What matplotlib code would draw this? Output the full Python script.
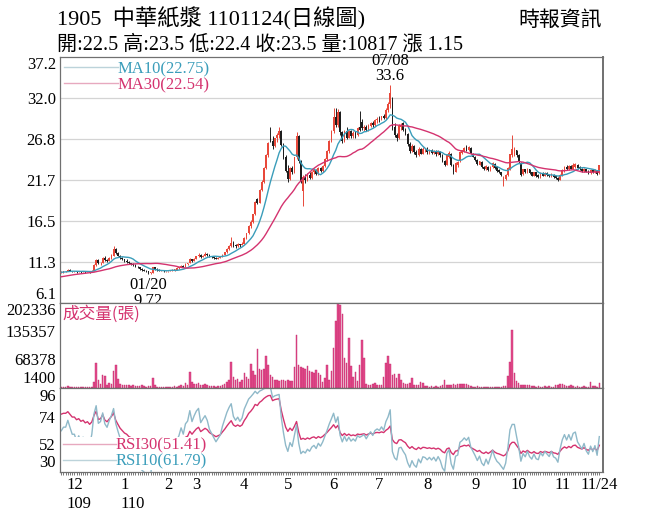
import numpy as np
import pandas as pd
import matplotlib
matplotlib.use("Agg")
import matplotlib.pyplot as plt
from matplotlib.lines import Line2D
from matplotlib.transforms import blended_transform_factory

plt.rcParams['font.family'] = ['Liberation Serif', 'Noto Sans CJK TC', 'DejaVu Sans']

# ---- data (1905 中華紙漿, daily, 2020/11/23 - 2021/11/24) ----
# trading days per month: tail of Nov, Dec, Jan ... Nov
month_days = [6, 23, 20, 13, 22, 20, 21, 21, 22, 22, 20, 20, 18]
month_labels = ["12", "1", "2", "3", "4", "5", "6", "7", "8", "9", "10", "11"]
year_labels = {"12": "109", "1": "110"}
last_label = "11/24"
hi_date, lo_date = "07/08", "01/20"

# closes before the window, only used to warm up MA / RSI
warmup_close = [8.6, 8.7, 8.6, 8.8, 8.9, 8.8, 8.9, 9.0, 8.9, 9.1, 9.0, 9.2, 9.1, 9.3, 9.2,
                9.4, 9.5, 9.4, 9.6, 9.7, 9.6, 9.8, 9.9, 9.8, 10.0, 9.9, 10.1, 10.0, 10.2, 10.1]

opens = [
    9.9, 10.0, 10.1, 10.1, 10.3, 10.2,
    10.1, 10.1, 10.0, 10.1, 10.0, 10.1, 10.0, 10.1, 10.0, 10.2, 10.9, 11.5, 11.1, 11.2, 11.8, 11.5,
    11.4, 11.8, 12.1, 12.9, 12.4, 12.1, 11.8,
    11.6, 11.4, 11.3, 11.1, 11.0, 10.9, 10.7, 10.6, 10.4, 10.3, 10.2, 10.1, 9.9, 9.9, 10.6, 10.4,
    10.3, 10.2, 10.2, 10.1,
    10.1, 10.1, 10.2, 10.3, 10.3, 10.5, 10.6, 10.8, 10.7, 11.0, 11.1, 11.6, 11.4,
    11.7, 12.0, 12.2, 11.9, 12.1, 12.3, 12.2, 12.0, 11.9, 11.8, 11.7, 11.8, 11.9, 12.2, 12.5, 12.9,
    13.3, 13.7, 13.4, 13.3, 13.5, 13.4,
    13.6, 14.3, 14.9, 15.8, 16.4, 17.3, 19.2, 18.8, 20.4, 21.4, 23.2, 24.8, 27.0, 26.6, 25.9, 26.9,
    27.4, 27.9, 26.1, 24.5,
    22.8, 21.8, 23.2, 22.6, 24.5, 27.2, 24.0, 20.2, 22.0, 21.6, 22.3, 21.9, 22.6, 22.9, 22.4, 23.2,
    22.8, 23.4, 24.3, 25.3, 26.6,
    27.9, 29.6, 28.6, 30.2, 27.7, 26.6, 27.8, 27.0, 27.8, 27.2, 27.6, 27.3, 28.4, 29.0, 28.2, 28.4,
    28.0, 28.5, 28.9, 28.6, 29.2,
    29.4, 29.3, 29.7, 29.5, 30.5, 31.2, 32.0, 28.4, 27.3, 26.9, 28.3, 28.8, 28.0, 27.5, 26.2, 25.3,
    26.0, 25.2, 24.8, 25.6, 25.0, 25.4,
    25.5, 25.2, 25.4, 25.1, 25.3, 24.9, 25.2, 24.8, 24.0, 23.6, 24.6, 25.0, 23.5, 22.7, 23.5, 24.0,
    25.1, 25.3, 25.8, 25.4, 25.7, 25.0,
    24.6, 24.2, 23.6, 23.9, 23.3, 23.0, 23.3, 22.9, 23.3, 23.7, 23.3, 22.9, 22.6, 21.5, 21.8, 22.3,
    23.0, 24.8, 24.9, 25.4,
    24.8, 23.8, 22.4, 23.0, 22.6, 23.0, 22.6, 22.2, 22.6, 22.3, 22.0, 22.5, 22.2, 22.5, 22.3, 22.1,
    22.3, 22.1, 21.9, 21.7,
    22.2, 22.8, 23.3, 23.0, 23.4, 23.1, 23.3, 23.6, 23.3, 23.1, 22.8, 23.0, 22.8, 22.5, 22.9, 22.6,
    22.8, 22.5,
]
highs = [
    10.1, 10.2, 10.2, 10.4, 10.4, 10.2,
    10.2, 10.1, 10.2, 10.1, 10.2, 10.1, 10.2, 10.1, 10.3, 11.0, 11.7, 11.6, 11.3, 11.9, 12.0, 11.7,
    11.9, 12.3, 13.3, 13.0, 12.5, 12.2, 11.9,
    11.7, 11.6, 11.4, 11.2, 11.1, 11.0, 10.8, 10.7, 10.5, 10.4, 10.3, 10.2, 10.0, 10.7, 10.7, 10.5,
    10.4, 10.3, 10.3, 10.2,
    10.2, 10.3, 10.4, 10.4, 10.6, 10.7, 10.9, 10.9, 11.1, 11.2, 11.8, 11.7, 11.8,
    12.1, 12.4, 12.3, 12.2, 12.5, 12.4, 12.3, 12.1, 12.0, 11.9, 11.9, 12.0, 12.3, 12.6, 13.0, 13.4,
    14.4, 13.9, 13.6, 13.7, 13.6, 13.8,
    14.4, 15.0, 15.9, 16.6, 17.4, 19.0, 19.4, 20.5, 21.6, 23.3, 24.9, 26.5, 28.4, 27.2, 27.0, 27.6,
    28.3, 28.0, 26.3, 24.8,
    23.5, 23.3, 23.4, 24.6, 27.7, 27.4, 24.2, 22.3, 22.4, 22.5, 22.6, 22.8, 23.1, 23.0, 23.3, 23.3,
    23.5, 24.4, 25.4, 26.7, 28.0,
    30.8, 30.8, 30.6, 30.4, 27.9, 28.0, 28.3, 28.0, 28.0, 27.8, 27.8, 28.3, 30.4, 29.3, 28.6, 28.6,
    28.7, 29.0, 29.1, 29.3, 29.6,
    29.7, 29.8, 30.0, 30.7, 31.5, 33.6, 32.2, 28.8, 27.6, 28.7, 28.9, 29.0, 28.2, 27.6, 26.5, 26.2,
    26.1, 25.4, 25.8, 25.7, 25.8, 25.7,
    25.8, 25.6, 25.6, 25.5, 25.5, 25.4, 25.3, 24.9, 24.2, 24.9, 25.3, 25.1, 23.7, 23.9, 24.0, 25.3,
    25.5, 25.8, 26.1, 25.9, 25.8, 25.1,
    24.7, 24.3, 24.1, 24.0, 23.4, 23.5, 23.4, 23.4, 23.9, 23.8, 23.4, 23.0, 22.7, 22.1, 22.4, 23.3,
    25.0, 27.3, 25.8, 25.5,
    24.9, 23.9, 23.1, 23.1, 23.2, 23.1, 22.7, 22.7, 22.7, 22.4, 22.6, 22.6, 22.6, 22.6, 22.4, 22.5,
    22.4, 22.2, 22.0, 22.4,
    23.0, 23.4, 23.5, 23.5, 23.6, 23.8, 23.8, 23.7, 23.4, 23.2, 23.2, 23.1, 22.9, 23.0, 23.0, 23.0,
    22.9, 23.5,
]
lows = [
    9.9, 9.9, 10.0, 10.1, 10.1, 10.0,
    10.0, 9.9, 10.0, 9.9, 10.0, 9.9, 10.0, 9.9, 10.0, 10.2, 10.8, 11.0, 10.9, 11.1, 11.4, 11.3,
    11.4, 11.7, 12.0, 12.3, 12.0, 11.7, 11.5,
    11.3, 11.2, 11.0, 10.9, 10.8, 10.6, 10.5, 10.3, 10.2, 10.1, 10.0, 9.72, 9.8, 9.9, 10.3, 10.2,
    10.1, 10.1, 10.0, 10.0,
    10.0, 10.1, 10.2, 10.2, 10.3, 10.4, 10.6, 10.6, 10.7, 10.9, 11.1, 11.3, 11.4,
    11.7, 11.9, 11.8, 11.9, 12.1, 12.1, 11.9, 11.8, 11.7, 11.6, 11.7, 11.8, 11.9, 12.2, 12.4, 12.8,
    13.2, 13.2, 13.1, 13.2, 13.2, 13.4,
    13.6, 14.2, 14.8, 15.6, 16.2, 17.2, 18.6, 18.8, 20.2, 21.3, 23.0, 24.6, 26.4, 25.6, 25.8, 26.5,
    27.0, 25.9, 24.3, 22.6,
    21.4, 21.6, 22.4, 22.5, 24.3, 23.8, 21.3, 18.3, 21.3, 21.5, 21.8, 21.8, 22.4, 22.3, 22.3, 22.7,
    22.7, 23.3, 24.1, 25.1, 26.4,
    27.6, 28.3, 28.4, 27.4, 26.3, 26.4, 26.8, 26.9, 27.0, 27.0, 27.0, 27.2, 27.8, 28.0, 27.9, 27.8,
    27.8, 28.3, 28.4, 28.5, 28.9,
    29.0, 29.2, 29.3, 29.4, 30.2, 30.8, 28.0, 27.1, 26.6, 26.8, 28.0, 27.8, 27.3, 26.0, 25.1, 25.2,
    25.0, 24.6, 24.7, 24.9, 24.9, 25.2,
    25.0, 25.0, 24.9, 25.0, 24.7, 24.8, 24.6, 23.9, 23.4, 23.5, 24.4, 23.4, 22.4, 22.6, 23.3, 23.9,
    24.9, 25.2, 25.3, 25.3, 24.9, 24.5,
    24.1, 23.6, 23.5, 23.2, 22.9, 22.9, 22.8, 22.8, 23.2, 23.1, 22.7, 22.5, 22.2, 20.9, 21.7, 22.2,
    22.9, 24.6, 24.7, 24.6,
    23.8, 22.1, 22.3, 22.5, 22.5, 22.4, 22.1, 22.1, 22.0, 21.9, 21.9, 22.1, 22.1, 22.2, 22.0, 22.0,
    21.9, 21.8, 21.5, 21.6,
    22.1, 22.7, 22.9, 22.9, 23.0, 23.0, 23.2, 23.1, 22.9, 22.7, 22.7, 22.6, 22.4, 22.4, 22.5, 22.5,
    22.3, 22.4,
]
closes = [
    10.0, 10.1, 10.1, 10.3, 10.2, 10.1,
    10.1, 10.0, 10.1, 10.0, 10.1, 10.0, 10.1, 10.0, 10.2, 10.9, 11.5, 11.1, 11.2, 11.8, 11.5, 11.4,
    11.8, 12.2, 12.9, 12.4, 12.1, 11.8, 11.6,
    11.4, 11.3, 11.1, 11.0, 10.9, 10.7, 10.6, 10.4, 10.3, 10.2, 10.1, 9.9, 9.9, 10.6, 10.4, 10.3,
    10.2, 10.2, 10.1, 10.1,
    10.1, 10.2, 10.3, 10.3, 10.5, 10.6, 10.8, 10.7, 11.0, 11.1, 11.6, 11.4, 11.7,
    12.0, 12.2, 11.9, 12.1, 12.3, 12.2, 12.0, 11.9, 11.8, 11.7, 11.8, 11.9, 12.2, 12.5, 12.9, 13.3,
    13.7, 13.4, 13.3, 13.5, 13.4, 13.6,
    14.3, 14.9, 15.8, 16.4, 17.3, 18.9, 18.8, 20.4, 21.4, 23.2, 24.8, 26.3, 26.6, 25.9, 26.9, 27.4,
    27.9, 26.1, 24.5, 22.8,
    21.8, 23.2, 22.6, 24.5, 27.2, 24.0, 21.5, 22.0, 21.6, 22.3, 21.9, 22.6, 22.9, 22.4, 23.2, 22.8,
    23.4, 24.3, 25.3, 26.6, 27.9,
    29.6, 28.6, 30.2, 27.7, 26.6, 27.8, 27.0, 27.8, 27.2, 27.6, 27.3, 28.2, 28.0, 28.2, 28.4, 28.0,
    28.5, 28.9, 28.6, 29.2, 29.4,
    29.3, 29.7, 29.5, 30.5, 31.2, 32.6, 28.4, 27.3, 26.9, 28.5, 28.6, 28.0, 27.5, 26.2, 25.3, 26.0,
    25.2, 24.8, 25.6, 25.0, 25.6, 25.5,
    25.2, 25.4, 25.1, 25.3, 24.9, 25.2, 24.8, 24.0, 23.6, 24.8, 25.1, 23.5, 22.7, 23.8, 23.9, 25.2,
    25.4, 25.7, 25.5, 25.8, 25.0, 24.6,
    24.2, 23.7, 24.0, 23.3, 23.0, 23.4, 22.9, 23.3, 23.8, 23.2, 22.8, 22.6, 22.3, 22.0, 22.3, 23.2,
    24.9, 25.6, 25.6, 24.8,
    23.9, 22.3, 23.0, 22.6, 23.1, 22.5, 22.2, 22.6, 22.1, 22.0, 22.5, 22.2, 22.5, 22.3, 22.1, 22.4,
    22.0, 21.9, 21.6, 22.3,
    22.9, 23.3, 23.0, 23.4, 23.1, 23.6, 23.7, 23.2, 23.0, 22.8, 23.1, 22.7, 22.5, 22.9, 22.6, 22.9,
    22.35, 23.5,
]
volumes = [
    2000, 2500, 3000, 4500, 3000, 2000,
    1800, 1500, 2000, 1600, 1900, 1500, 1700, 1600, 3000, 15000, 60000, 20000, 10000, 30000, 28000,
    8000, 12000, 9000, 40000, 55000, 22000, 9000, 8000,
    7000, 6000, 6500, 5000, 6000, 4500, 5500, 4000, 6000, 4500, 3500, 5000, 4000, 24000, 6000, 3000,
    2500, 2000, 3000, 2500,
    2500, 2000, 3000, 4000, 3500, 5000, 6000, 4000, 12000, 8000, 38000, 14000, 9000,
    10000, 12000, 7000, 6000, 9000, 8000, 5000, 4000, 4500, 3500, 5000, 4000, 6000, 9000, 14000,
    20000, 62000, 25000, 18000, 22000, 15000, 20000,
    35000, 26000, 22000, 57000, 40000, 30000, 94000, 45000, 42000, 46000, 75000, 55000, 30000, 25000,
    20000, 18000, 17000, 19000, 18000, 16000,
    18000, 17000, 16000, 50000, 125000, 55000, 50000, 48000, 45000, 52000, 40000, 38000, 35000,
    42000, 36000, 30000, 14000, 24000, 55000, 19000, 40000,
    96000, 159000, 202336, 198000, 176000, 72000, 60000, 120000, 53000, 26000, 38000, 17000, 55000,
    114000, 72000, 10000, 8000, 7000, 9000, 12000, 6000,
    6000, 6000, 26000, 60000, 77000, 58000, 31000, 33000, 24000, 33000, 19000, 12000, 10000, 9000,
    11000, 24000, 8000, 7000, 8000, 14000, 12000, 5000,
    4000, 3500, 4000, 3000, 4500, 3500, 4000, 6000, 19000, 7000, 7500, 6500, 9000, 8000, 9500, 9000,
    10000, 8500, 9000, 8000, 4000, 3500,
    3000, 4000, 3000, 3500, 2500, 3000, 3500, 2500, 3000, 2500, 3000, 2500, 3000, 4000, 5000, 29000,
    62000, 137000, 35000, 17000,
    12000, 8000, 7000, 8000, 6000, 7000, 4000, 5000, 3500, 4000, 3000, 3500, 4500, 3000, 4000, 3000,
    3500, 7000, 8000, 9000,
    8500, 7500, 5000, 4000, 6000, 4500, 3500, 4000, 3000, 3500, 4000, 3000, 3500, 14000, 4000, 4500,
    3500, 10817,
]

price_ticks = [6.1, 11.3, 16.5, 21.7, 26.8, 32.0, 37.2]
vol_ticks = [1400, 68378, 135357, 202336]
rsi_ticks = [30, 52, 74, 96]

# ---- indicators ----
n_days = len(closes)
all_close = pd.Series(warmup_close + closes)
ma10 = all_close.rolling(10).mean().values[-n_days:]
ma30 = all_close.rolling(30).mean().values[-n_days:]


def rsi(series, n):
    diff = series.diff()
    up = diff.clip(lower=0).ewm(alpha=1.0 / n, adjust=False).mean()
    dn = (-diff.clip(upper=0)).ewm(alpha=1.0 / n, adjust=False).mean()
    return (100 * up / (up + dn)).values[-n_days:]


rsi10 = rsi(all_close, 10)
rsi30 = rsi(all_close, 30)

x = np.arange(n_days)
o, h, l, c = map(np.array, (opens, highs, lows, closes))
up = c >= o
month_start = np.cumsum([0] + month_days[:-1])[1:]

# ---- colours ----
red = "#e8483a"
blk = "#1e1e1e"
teal = "#3a9dba"
pink = "#d4336f"
vol_c = "#e34b8c"
rsi10_c = "#8fb9c9"
spine_c = "#707070"

fig = plt.figure(figsize=(6.56, 5.25), dpi=100)
L, W = 60 / 656, 543 / 656
ax_p = fig.add_axes([L, 1 - 303 / 525, W, 246 / 525])
ax_v = fig.add_axes([L, 1 - 388 / 525, W, 85 / 525])
ax_r = fig.add_axes([L, 1 - 472 / 525, W, 84 / 525])

for ax in (ax_p, ax_v, ax_r):
    ax.set_xlim(-0.6, n_days + 0.7)
    for s in ax.spines.values():
        s.set_color(spine_c)
        s.set_linewidth(0.9)
    ax.spines["right"].set_linewidth(1.4)
    ax.tick_params(axis="y", length=0, pad=3, labelsize=12)
    ax.set_xticks([])

# ---- price panel ----
for yv in price_ticks[1:-1]:
    ax_p.axhline(yv, color="#d4d4d4", lw=0.9, zorder=0)
col = np.where(up, red, blk)
ax_p.vlines(x, l, h, colors=col, lw=0.7, zorder=2)
body = np.maximum(np.abs(c - o), 0.06)
ax_p.bar(x, body, bottom=np.minimum(o, c), width=0.78, color=col, lw=0, zorder=3)
ax_p.plot(x, ma10, color=teal, lw=1.0, zorder=4)
ax_p.plot(x, ma30, color=pink, lw=1.0, zorder=4)
ax_p.set_ylim(price_ticks[0], price_ticks[-1])
ax_p.set_yticks(price_ticks)
ax_p.set_yticklabels(["%.1f" % t for t in price_ticks])
ax_p.get_yticklabels()[0].set_va("bottom")
ax_p.get_yticklabels()[-1].set_va("top")

leg = ax_p.legend([Line2D([], [], color="#bcd3da", lw=1.0), Line2D([], [], color="#e7a9bf", lw=1.0)],
                  ["MA10(22.75)", "MA30(22.54)"], loc="upper left", fontsize=12,
                  frameon=False, handlelength=3.2, handletextpad=0.0, borderpad=0.0,
                  borderaxespad=0.25, labelspacing=0.0)
leg.get_texts()[0].set_color(teal)
leg.get_texts()[1].set_color(pink)

ih = int(np.argmax(h))
il = int(np.argmin(l))
ax_p.annotate("%s\n%.1f" % (hi_date, h[ih]), (ih, h[ih]), xytext=(0, 1), textcoords="offset points",
              ha="center", va="bottom", fontsize=12, linespacing=0.95, zorder=6)
ax_p.annotate("%s\n%.2f" % (lo_date, l[il]), (il, l[il]), xytext=(0, -2), textcoords="offset points",
              ha="center", va="top", fontsize=12, linespacing=0.95, zorder=6, annotation_clip=False)

# ---- volume panel ----
ax_v.bar(x, volumes, width=0.7, color=vol_c, edgecolor="#c22a6b", lw=0.3)
ax_v.set_ylim(0, vol_ticks[-1])
ax_v.set_yticks(vol_ticks)
ax_v.set_yticklabels([str(t) for t in vol_ticks])
ax_v.get_yticklabels()[0].set_va("bottom")
ax_v.get_yticklabels()[-1].set_va("top")
ax_v.text(0.005, 0.97, "成交量(張)", transform=ax_v.transAxes, ha="left", va="top",
          fontsize=12, color=pink, family=["Noto Sans CJK TC"])

# ---- RSI panel ----
ax_r.plot(x, rsi30, color=pink, lw=1.0)
ax_r.plot(x, rsi10, color=rsi10_c, lw=1.0)
ax_r.set_ylim(29.5, 97)
ax_r.set_yticks(rsi_ticks)
ax_r.get_yticklabels()[0].set_va("bottom")
ax_r.get_yticklabels()[-1].set_va("top")
leg2 = ax_r.legend([Line2D([], [], color="#e7a9bf", lw=1.0), Line2D([], [], color="#bcd3da", lw=1.0)],
                   ["RSI30(51.41)", "RSI10(61.79)"], loc="lower left", fontsize=12,
                   frameon=True, facecolor="white", edgecolor="none", framealpha=1.0, fancybox=False,
                   handlelength=3.2, handletextpad=0.0, borderpad=0.05,
                   borderaxespad=0.1, labelspacing=0.0)
leg2.get_texts()[0].set_color(pink)
leg2.get_texts()[1].set_color(teal)

tick_pos = list(month_start) + [n_days - 1]
ax_r.set_xticks(tick_pos)
ax_r.set_xticklabels(month_labels + [last_label], fontsize=12)
ax_r.set_xticks(x, minor=True)
ax_r.tick_params(axis="x", which="both", length=2.5, width=0.5, color="#444444", pad=1)
trans = blended_transform_factory(ax_r.transData, ax_r.transAxes)
for pos, lab in zip(month_start, month_labels):
    if lab in year_labels:
        ax_r.annotate(year_labels[lab], (pos, 0), xycoords=trans,
                      xytext=(-6 if len(lab) > 1 else -3, -17), textcoords="offset points",
                      ha="left", va="top", fontsize=12)

# ---- header ----
fig.text(57 / 656, 1 - 19 / 525, "1905  中華紙漿 1101124(日線圖)", ha="left", va="center", fontsize=16)
fig.text(57 / 656, 1 - 45 / 525, "開:22.5 高:23.5 低:22.4 收:23.5 量:10817 漲 1.15",
         ha="left", va="center", fontsize=14.5)
fig.text(602 / 656, 1 - 21 / 525, "時報資訊", ha="right", va="center", fontsize=15)

fig.savefig("out.png", dpi=100)
